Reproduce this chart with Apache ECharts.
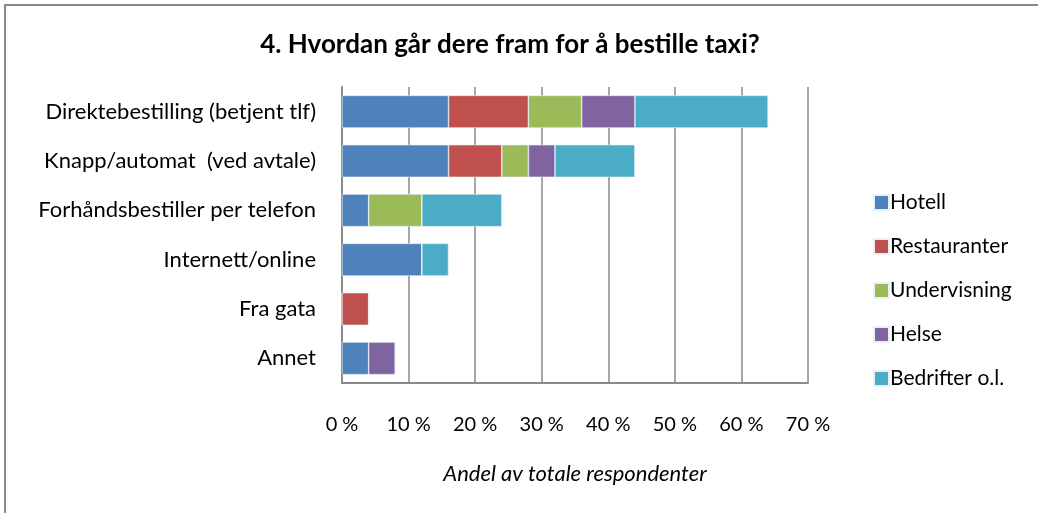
<!DOCTYPE html>
<html>
<head>
<meta charset="utf-8">
<script src="https://cdn.jsdelivr.net/npm/echarts@6/dist/echarts.min.js"></script>
<style>
  body { margin: 0; background: #fff; }
  #frame { position: absolute; left: 4px; top: 4px; width: 1034px; height: 509px;
           border-top: 2px solid #8a8a8a; border-left: 2px solid #8a8a8a; box-sizing: border-box; pointer-events: none; }
  #chart { position: absolute; left: 0; top: 0; width: 1038px; height: 513px; }
</style>
</head>
<body>
<div id="chart"></div>
<div id="frame"></div>
<script>
// kategorier og verdier (prosent av totale respondenter)
const categories = ['Direktebestilling (betjent tlf)', 'Knapp/automat  (ved avtale)', 'Forhåndsbestiller per telefon', 'Internett/online', 'Fra gata', 'Annet'];
const hotell = [16, 16, 4, 12, 0, 4];
const restauranter = [12, 8, 0, 0, 4, 0];
const undervisning = [8, 4, 8, 0, 0, 0];
const helse = [8, 4, 0, 0, 0, 4];
const bedrifter = [20, 12, 12, 4, 0, 0];
const seriesNames = ['Hotell', 'Restauranter', 'Undervisning', 'Helse', 'Bedrifter o.l.'];
const colors = ['#4F81BD', '#C0504D', '#9BBB59', '#8064A2', '#4BACC6'];

let myChart = echarts.init(document.getElementById('chart'));
let allData = [hotell, restauranter, undervisning, helse, bedrifter];
let font = 'Lato, "Open Sans", sans-serif';

myChart.setOption({
  color: colors,
  textStyle: { fontFamily: font },
  title: {
    text: '4. Hvordan går dere fram for å bestille taxi?',
    left: 505, top: 27, textAlign: 'center',
    textStyle: { fontSize: 26, fontWeight: 'bold', color: '#000', fontFamily: font }
  },
  legend: {
    orient: 'vertical',
    left: 868, top: 186,
    itemWidth: 15, itemHeight: 15, itemGap: 21,
    icon: 'rect',
    textStyle: { fontSize: 21, lineHeight: 23, color: '#000', padding: [0, 0, 0, -4] },
    data: seriesNames
  },
  grid: { left: 342, right: 230, top: 87, bottom: 130 },
  xAxis: {
    type: 'value', min: 0, max: 70, interval: 10,
    axisLabel: { formatter: '{value} %', fontSize: 20, color: '#000', margin: 32 },
    axisLine: { show: true, lineStyle: { color: '#8a8a8a', width: 2 } },
    axisTick: { show: false },
    splitLine: { show: true, lineStyle: { color: '#8a8a8a', width: 1.5 } },
    name: 'Andel av totale respondenter',
    nameLocation: 'middle', nameGap: 80,
    nameTextStyle: { fontSize: 22, fontStyle: 'italic', color: '#000' }
  },
  yAxis: {
    type: 'category', inverse: true,
    data: categories,
    axisLine: { show: true, lineStyle: { color: '#8a8a8a', width: 2 } },
    axisTick: { show: false },
    axisLabel: { fontSize: 22, color: '#000', margin: 26 }
  },
  series: seriesNames.map(function (name, i) {
    return {
      name: name, type: 'bar', stack: 'total',
      barCategoryGap: '34%',
      data: allData[i],
      itemStyle: { borderColor: '#e8f0f8', borderWidth: 0.6 }
    };
  })
});
</script>
</body>
</html>
